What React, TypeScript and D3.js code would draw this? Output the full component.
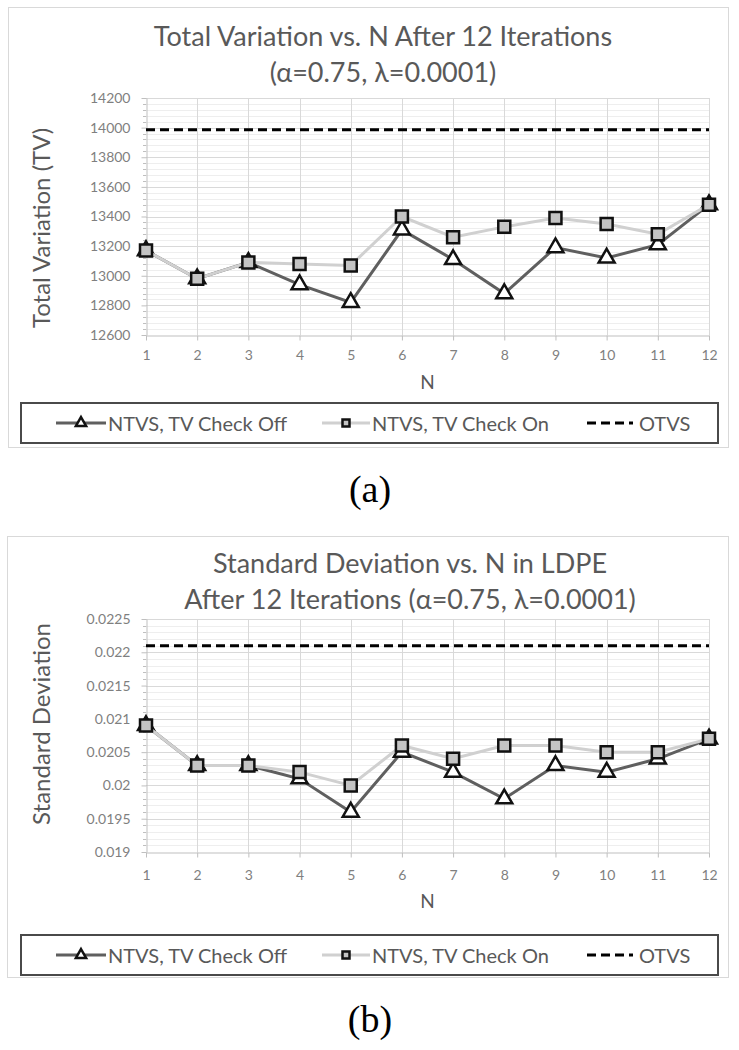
import * as d3 from 'd3';
import { useEffect, useRef } from 'react';

// N on the x axis
const nValues = [1, 2, 3, 4, 5, 6, 7, 8, 9, 10, 11, 12];

// (a) total variation
const tvCheckOff = [13170, 12980, 13090, 12940, 12820, 13310, 13110, 12880, 13190, 13120, 13210, 13480];
const tvCheckOn = [13170, 12980, 13090, 13080, 13070, 13400, 13260, 13330, 13390, 13350, 13280, 13480];
const tvOtvs = 13985;
const tvTicks = [12600, 12800, 13000, 13200, 13400, 13600, 13800, 14000, 14200];
const tvTickLabels = ['12600', '12800', '13000', '13200', '13400', '13600', '13800', '14000', '14200'];

// (b) standard deviation
const sdCheckOff = [0.0209, 0.0203, 0.0203, 0.0201, 0.0196, 0.0205, 0.0202, 0.0198, 0.0203, 0.0202, 0.0204, 0.0207];
const sdCheckOn = [0.0209, 0.0203, 0.0203, 0.0202, 0.0200, 0.0206, 0.0204, 0.0206, 0.0206, 0.0205, 0.0205, 0.0207];
const sdOtvs = 0.0221;
const sdTicks = [0.019, 0.0195, 0.02, 0.0205, 0.021, 0.0215, 0.022, 0.0225];
const sdTickLabels = ['0.019', '0.0195', '0.02', '0.0205', '0.021', '0.0215', '0.022', '0.0225'];

const legendLabels = ['NTVS, TV Check Off', 'NTVS, TV Check On', 'OTVS'];

const FONT = 'Lato, "Open Sans", sans-serif';

interface Panel {
    titleLines: string[];
    yTitle: string;
    ticks: number[];
    tickLabels: string[];
    off: number[];
    on: number[];
    otvs: number;
    caption: string;
    // layout
    frameLeft: number;
    frameTop: number;
    frameBottom: number;
    titleX: number;
    titleY: number[];
    plotTop: number;
    plotBottom: number;
    yTitleY: number;
    xPad: number;
    nLabelY: number;
    legendTop: number;
    captionY: number;
}

const panels: Panel[] = [
    {
        titleLines: ['Total Variation vs. N After 12 Iterations', '(α=0.75, λ=0.0001)'],
        yTitle: 'Total Variation (TV)',
        ticks: tvTicks,
        tickLabels: tvTickLabels,
        off: tvCheckOff,
        on: tvCheckOn,
        otvs: tvOtvs,
        caption: '(a)',
        frameLeft: 8, frameTop: 7, frameBottom: 447,
        titleX: 383, titleY: [35, 71],
        plotTop: 98, plotBottom: 335, yTitleY: 228,
        xPad: 10, nLabelY: 381,
        legendTop: 403, captionY: 489,
    },
    {
        titleLines: ['Standard Deviation vs. N in LDPE', 'After 12 Iterations (α=0.75, λ=0.0001)'],
        yTitle: 'Standard Deviation',
        ticks: sdTicks,
        tickLabels: sdTickLabels,
        off: sdCheckOff,
        on: sdCheckOn,
        otvs: sdOtvs,
        caption: '(b)',
        frameLeft: 7, frameTop: 536, frameBottom: 977,
        titleX: 410, titleY: [562, 598],
        plotTop: 619, plotBottom: 852, yTitleY: 724,
        xPad: 13, nLabelY: 900,
        legendTop: 935, captionY: 1019,
    },
];

function drawPanel(root: d3.Selection<SVGGElement, unknown, null, undefined>, p: Panel) {
    const g = root.append('g');

    g.append('rect')
        .attr('x', p.frameLeft + 0.5).attr('y', p.frameTop + 0.5)
        .attr('width', 728 - p.frameLeft).attr('height', p.frameBottom - p.frameTop)
        .attr('fill', '#fff').attr('stroke', '#d9d9d9');

    p.titleLines.forEach((t, i) => {
        g.append('text')
            .attr('x', p.titleX).attr('y', p.titleY[i])
            .attr('text-anchor', 'middle').attr('dominant-baseline', 'central')
            .attr('font-family', FONT).attr('font-size', 27).attr('fill', '#595959')
            .text(t);
    });

    const x = d3.scaleLinear().domain([1, 12]).range([146, 709]);
    const y = d3.scaleLinear()
        .domain([p.ticks[0], p.ticks[p.ticks.length - 1]])
        .range([p.plotBottom, p.plotTop]);

    // minor horizontal grid (5 divisions per major)
    const step = p.ticks[1] - p.ticks[0];
    const minor = d3.range(0, (p.ticks.length - 1) * 5 + 1)
        .filter(i => i % 5 !== 0)
        .map(i => p.ticks[0] + (i * step) / 5);

    g.append('g').selectAll('line').data(minor).enter().append('line')
        .attr('x1', x(1)).attr('x2', x(12))
        .attr('y1', d => Math.round(y(d)) + 0.5).attr('y2', d => Math.round(y(d)) + 0.5)
        .attr('stroke', '#eeeeee');

    g.append('g').selectAll('line').data(p.ticks.slice(1)).enter().append('line')
        .attr('x1', x(1)).attr('x2', x(12))
        .attr('y1', d => Math.round(y(d)) + 0.5).attr('y2', d => Math.round(y(d)) + 0.5)
        .attr('stroke', '#d9d9d9');

    g.append('g').selectAll('line').data(nValues.slice(1)).enter().append('line')
        .attr('x1', d => Math.round(x(d)) + 0.5).attr('x2', d => Math.round(x(d)) + 0.5)
        .attr('y1', y.range()[1]).attr('y2', y.range()[0])
        .attr('stroke', '#d9d9d9');

    // minor ticks on y axis
    g.append('g').selectAll('line').data(minor).enter().append('line')
        .attr('x1', x(1) - 3).attr('x2', x(1))
        .attr('y1', d => Math.round(y(d)) + 0.5).attr('y2', d => Math.round(y(d)) + 0.5)
        .attr('stroke', '#bfbfbf');

    const yAxis = g.append('g')
        .attr('transform', `translate(${Math.round(x(1)) + 0.5},0)`)
        .call(d3.axisLeft(y).tickValues(p.ticks)
            .tickFormat((_, i) => p.tickLabels[i])
            .tickSizeInner(5).tickSizeOuter(0).tickPadding(11));

    const xAxis = g.append('g')
        .attr('transform', `translate(0,${Math.round(p.plotBottom) + 0.5})`)
        .call(d3.axisBottom(x).tickValues(nValues)
            .tickFormat(d3.format('d'))
            .tickSizeInner(5).tickSizeOuter(0).tickPadding(p.xPad));

    [yAxis, xAxis].forEach(a => {
        a.select('.domain').attr('stroke', '#bfbfbf');
        a.selectAll('.tick line').attr('stroke', '#bfbfbf');
        a.selectAll('.tick text')
            .attr('font-family', FONT).attr('font-size', 14).attr('fill', '#7f7f7f');
    });

    g.append('text')
        .attr('x', (x(1) + x(12)) / 2).attr('y', p.nLabelY)
        .attr('text-anchor', 'middle').attr('dominant-baseline', 'central')
        .attr('font-family', FONT).attr('font-size', 19).attr('fill', '#595959')
        .text('N');

    g.append('text')
        .attr('transform', `translate(40,${p.yTitleY}) rotate(-90)`)
        .attr('text-anchor', 'middle').attr('dominant-baseline', 'central')
        .attr('font-family', FONT).attr('font-size', 24).attr('fill', '#595959')
        .text(p.yTitle);

    const line = d3.line<number>()
        .x((_, i) => x(nValues[i]))
        .y(d => y(d));

    const tri = d3.symbol(d3.symbolTriangle, 110)();
    const sq = d3.symbol(d3.symbolSquare, 144)();

    // series 1: TV check off
    g.append('path').datum(p.off)
        .attr('d', line).attr('fill', 'none')
        .attr('stroke', '#5f5f5f').attr('stroke-width', 3);
    g.append('g').selectAll('path').data(p.off).enter().append('path')
        .attr('d', tri)
        .attr('transform', (d, i) => `translate(${x(nValues[i])},${y(d)})`)
        .attr('fill', '#fff').attr('stroke', '#111').attr('stroke-width', 2.5);

    // series 2: TV check on
    g.append('path').datum(p.on)
        .attr('d', line).attr('fill', 'none')
        .attr('stroke', '#d0d0d0').attr('stroke-width', 3);
    g.append('g').selectAll('path').data(p.on).enter().append('path')
        .attr('d', sq)
        .attr('transform', (d, i) => `translate(${x(nValues[i])},${y(d)})`)
        .attr('fill', '#c4c4c4').attr('stroke', '#111').attr('stroke-width', 2.5);

    // OTVS reference
    g.append('line')
        .attr('x1', x(1)).attr('x2', x(12))
        .attr('y1', y(p.otvs)).attr('y2', y(p.otvs))
        .attr('stroke', '#000').attr('stroke-width', 3).attr('stroke-dasharray', '9,5');

    // legend
    const ly = p.legendTop + 20;
    g.append('rect')
        .attr('x', 21).attr('y', p.legendTop)
        .attr('width', 697).attr('height', 40)
        .attr('fill', 'none').attr('stroke', '#4a4a4a').attr('stroke-width', 2);

    const lg = g.append('g');
    lg.append('line').attr('x1', 56).attr('x2', 106).attr('y1', ly).attr('y2', ly)
        .attr('stroke', '#5f5f5f').attr('stroke-width', 3);
    lg.append('path').attr('d', d3.symbol(d3.symbolTriangle, 45)())
        .attr('transform', `translate(81,${ly})`)
        .attr('fill', '#fff').attr('stroke', '#111').attr('stroke-width', 2.5);
    lg.append('line').attr('x1', 322).attr('x2', 370).attr('y1', ly).attr('y2', ly)
        .attr('stroke', '#d0d0d0').attr('stroke-width', 3);
    lg.append('path').attr('d', d3.symbol(d3.symbolSquare, 49)())
        .attr('transform', `translate(346,${ly})`)
        .attr('fill', '#c4c4c4').attr('stroke', '#111').attr('stroke-width', 2.5);
    lg.append('line').attr('x1', 587).attr('x2', 633).attr('y1', ly).attr('y2', ly)
        .attr('stroke', '#000').attr('stroke-width', 3).attr('stroke-dasharray', '9,5');

    [108, 372, 639].forEach((lx, i) => {
        lg.append('text')
            .attr('x', lx).attr('y', ly)
            .attr('dominant-baseline', 'central')
            .attr('font-family', FONT).attr('font-size', 20).attr('fill', '#595959')
            .text(legendLabels[i]);
    });

    root.append('text')
        .attr('x', 370).attr('y', p.captionY)
        .attr('text-anchor', 'middle').attr('dominant-baseline', 'central')
        .attr('font-family', '"Liberation Serif", "Times New Roman", serif')
        .attr('font-size', 38).attr('fill', '#000')
        .text(p.caption);
}

export default function App() {
    const svgRef = useRef<SVGSVGElement | null>(null);

    useEffect(() => {
        const svg = d3.select(svgRef.current);
        svg.html('');
        svg.append('rect').attr('width', 739).attr('height', 1050).attr('fill', '#fff');
        const root = svg.append('g');
        panels.forEach(p => drawPanel(root, p));
    }, []);

    return (
        <svg
            ref={svgRef}
            width={739}
            height={1050}
            style={{ position: 'absolute', left: 0, top: 0 }}
        />
    );
}
